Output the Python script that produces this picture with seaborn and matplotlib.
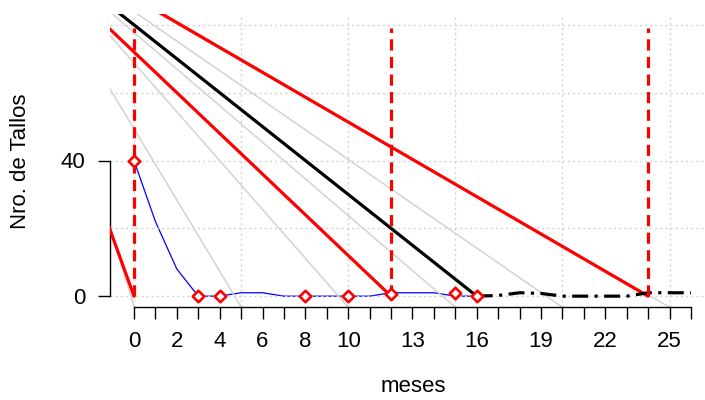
import numpy as np
import matplotlib
matplotlib.use("Agg")
import matplotlib.pyplot as plt
import seaborn as sns

# datos
meses = [0, 1, 2, 3, 4, 5, 6, 7, 8, 9, 10, 11, 12, 13, 14, 15, 16]
tallos = [40, 22, 8, 0, 0, 1, 1, 0, 0, 0, 0, 0, 1, 1, 1, 0, 0]

puntos_x = [0, 3, 4, 8, 10, 12, 15, 16]
puntos_y = [40, 0, 0, 0, 0, 0.5, 0.8, 0]

# proyeccion (linea negra punto-raya)
proy_x = [16, 17, 18, 19, 20, 21, 22, 23, 24, 25, 26]
proy_y = [0, 0.2, 1, 0.8, 0, 0, 0, 0, 1, 1, 1]

# rectas rojas: mes donde llegan a cero y pendiente
rojas_fin = [0, 12, 24]
rojas_pend = [17.5, 6.0, 3.667]

# recta negra
negra_fin = 16
negra_pend = 5.0

# rectas grises: mes donde cruzan cero y pendiente
grises_cero = [-0.15, 4.7, 9.55, 14.4, 19.25, 24.1]
grises_pend = [21.0, 10.5, 7.2, 5.4, 4.36, 3.63]

# cortes verticales
cortes = [0, 12, 24]
corte_alto = 79

xticks = list(range(27))
xlabels_vis = [0, 2, 4, 6, 8, 10, 13, 16, 19, 22, 25]

sns.set_style("white")
plt.rcParams['font.family'] = ['Liberation Sans', 'DejaVu Sans']
plt.rcParams['text.color'] = 'black'

fig = plt.figure(figsize=(7.05, 4.0), dpi=100)
ax = fig.add_axes([110 / 705, 93 / 400, 595 / 705, 293 / 400])

# grises
for z, s in zip(grises_cero, grises_pend):
    xs = np.array([-2.0, z + 1.0])
    sns.lineplot(x=xs, y=s * (z - xs), color='lightgray', lw=1.1,
                 estimator=None, sort=False, ax=ax, zorder=2)

# rojas
for t, s in zip(rojas_fin, rojas_pend):
    xs = np.array([-2.0, t])
    sns.lineplot(x=xs, y=s * (t - xs), color='red', lw=2.3,
                 estimator=None, sort=False, ax=ax, zorder=3)

# negra
xs = np.array([-2.0, negra_fin])
sns.lineplot(x=xs, y=negra_pend * (negra_fin - xs), color='black', lw=2.3,
             estimator=None, sort=False, ax=ax, zorder=3)

# tallos observados
sns.lineplot(x=meses, y=tallos, color='blue', lw=0.9,
             estimator=None, sort=False, ax=ax, zorder=1)

# proyeccion
sns.lineplot(x=proy_x, y=proy_y, color='black', lw=2.3,
             linestyle=(0, (5, 2, 1, 2)),
             estimator=None, sort=False, ax=ax, zorder=3)

# cortes
ax.vlines(cortes, 0, corte_alto, colors='red', lw=2.3,
          linestyles=[(0, (3.5, 2))], zorder=4)

sns.scatterplot(x=puntos_x, y=puntos_y, marker='D', s=34,
                facecolor='white', edgecolor='red', linewidth=1.9,
                ax=ax, zorder=5)

# grilla punteada sobre la serie azul
for gx in [0, 5, 10, 15, 20, 25]:
    ax.axvline(gx, color='lightgray', lw=1, ls=(0, (1.5, 2.2)), zorder=1.5)
for gy in [0, 20, 40, 60, 80]:
    ax.axhline(gy, color='lightgray', lw=1, ls=(0, (1.5, 2.2)), zorder=1.5)

ax.set_xlim(-24 / 21.42, 571 / 21.42)
ax.set_ylim(-3.2, 83.2)

ax.set_xticks(xticks)
ax.set_xticklabels([str(v) if v in xlabels_vis else '' for v in xticks])
ax.set_yticks([0, 40])
ax.tick_params(axis='both', direction='out', length=8.5, width=1,
               color='black', labelsize=16, labelcolor='black',
               bottom=True, left=True)
ax.tick_params(axis='x', pad=9)
ax.tick_params(axis='y', pad=9)

for side in ['top', 'right']:
    ax.spines[side].set_visible(False)
ax.spines['left'].set_bounds(0, 40)
ax.spines['bottom'].set_bounds(0, 26)
for side in ['left', 'bottom']:
    ax.spines[side].set_color('black')
    ax.spines[side].set_linewidth(1)
ax.set_xlabel('')
ax.set_ylabel('')

fig.text(413 / 705, (400 - 386) / 400, 'meses', ha='center', va='center',
         fontsize=16, color='black')
fig.text(21 / 705, (400 - 161) / 400, 'Nro. de Tallos', ha='center', va='center',
         rotation=90, fontsize=16, color='black')

fig.savefig('out.png', dpi=100)
